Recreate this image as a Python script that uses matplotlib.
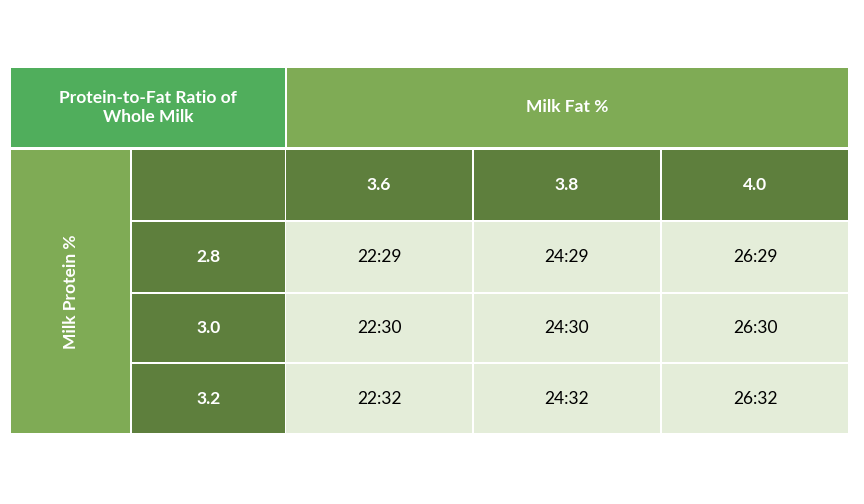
import matplotlib
matplotlib.use("Agg")
import matplotlib.pyplot as plt
from matplotlib.patches import Rectangle

title = "Protein-to-Fat Ratio of\nWhole Milk"
col_title = "Milk Fat %"
row_title = "Milk Protein %"
fat_levels = ["3.6", "3.8", "4.0"]
protein_levels = ["2.8", "3.0", "3.2"]
ratios = [
    ["22:29", "24:29", "26:29"],
    ["22:30", "24:30", "26:30"],
    ["22:32", "24:32", "26:32"],
]

BRIGHT = "#50ae5c"
MID = "#7fab55"
DARK = "#5e7f3d"
LIGHT = "#e4edd9"

fig = plt.figure(figsize=(8.64, 5.04), dpi=100)
ax = fig.add_axes([0, 0, 1, 1])
ax.set_xlim(0, 864)
ax.set_ylim(504, 0)
ax.axis("off")
plt.rcParams["font.family"] = ["Lato", "DejaVu Sans"]


def cell(x0, x1, y0, y1, color, text="", tcolor="white", bold=True, rot=0, size=12.5):
    ax.add_patch(Rectangle((x0, y0), x1 - x0, y1 - y0, facecolor=color,
                           edgecolor="none"))
    if text:
        ax.text((x0 + x1) / 2, (y0 + y1) / 2, text, ha="center", va="center",
                color=tcolor, fontsize=size, rotation=rot,
                fontweight="bold" if bold else "normal", linespacing=1.3)


col_x = [(286, 472), (474, 660), (662, 848)]
row_y = [(222, 292), (294, 362), (364, 433)]

cell(11, 285, 68, 147, BRIGHT, title)
cell(287, 848, 68, 147, MID, col_title)
cell(11, 130, 150, 433, MID, row_title, rot=90)
cell(132, 285, 150, 220, DARK)
for (x0, x1), f in zip(col_x, fat_levels):
    cell(x0, x1, 150, 220, DARK, f)
for (y0, y1), p, row in zip(row_y, protein_levels, ratios):
    cell(132, 285, y0, y1, DARK, p)
    for (x0, x1), r in zip(col_x, row):
        cell(x0, x1, y0, y1, LIGHT, r, tcolor="black", bold=False)

fig.savefig("out.png", dpi=100)
